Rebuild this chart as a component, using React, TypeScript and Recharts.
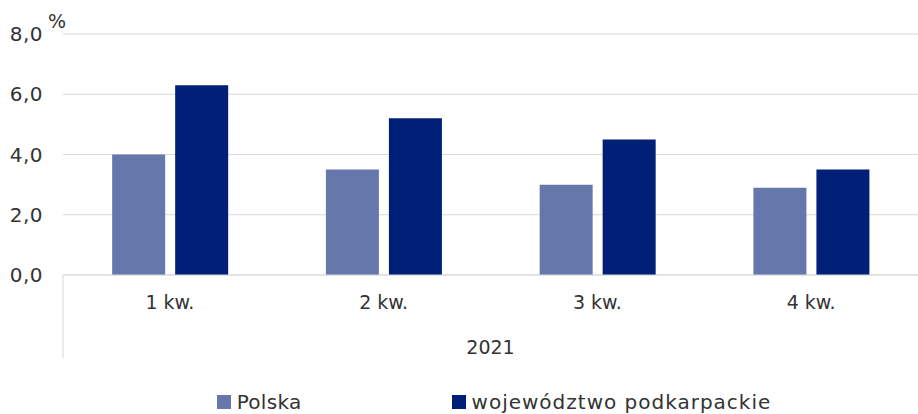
import React from 'react'
import { BarChart, Bar, XAxis, YAxis, CartesianGrid, Legend, Label, usePlotArea } from 'recharts'

const quarters = ['1 kw.', '2 kw.', '3 kw.', '4 kw.']
const polska = [4.0, 3.5, 3.0, 2.9]
const podkarpackie = [6.3, 5.2, 4.5, 3.5]
const yTicks = [0, 2, 4, 6, 8]
const yearLabel = '2021'

const data = quarters.map((q, i) => ({ q, polska: polska[i], podk: podkarpackie[i] }))

const FONT = '"DejaVu Sans", Verdana, sans-serif'
const TEXT = '#333333'

function Extras() {
  const area = usePlotArea()
  if (!area) return null
  const bottom = area.y + area.height
  return (
    <g>
      <line x1={area.x} x2={area.x} y1={bottom} y2={bottom + 83} stroke="#d9d9d9" strokeWidth={1} />
      <text x={area.x - 15} y={area.y - 6} fontSize={19} fill={TEXT} fontFamily={FONT}>%</text>
    </g>
  )
}

const legendItems = [
  { label: 'Polska', color: '#6677ab' },
  { label: 'województwo podkarpackie', color: '#001f77' },
]

function LegendContent() {
  return (
    <div
      style={{
        display: 'flex',
        justifyContent: 'center',
        alignItems: 'flex-end',
        height: 54,
        gap: 150,
        fontFamily: FONT,
        fontSize: 20,
        letterSpacing: 0.8,
        color: TEXT,
        paddingLeft: 70,
        boxSizing: 'border-box',
      }}
    >
      {legendItems.map((it, i) => (
        <div key={it.label} style={{ display: 'flex', alignItems: 'center', lineHeight: '24px', letterSpacing: i === 0 ? 0.3 : 1 }}>
          <span style={{ width: 14, height: 14, background: it.color, display: 'inline-block', marginRight: 6 }} />
          <span>{it.label}</span>
        </div>
      ))}
    </div>
  )
}

export default function App() {
  return (
    <div style={{ position: 'absolute', left: 0, top: 0 }}>
      <BarChart
        width={918}
        height={414}
        data={data}
        margin={{ top: 34, right: 0, left: 0, bottom: 0 }}
        barCategoryGap="23%"
        barGap={10}
      >
        <CartesianGrid vertical={false} stroke="#d9d9d9" strokeWidth={1} />
        <XAxis
          dataKey="q"
          height={85}
          axisLine={{ stroke: '#d9d9d9' }}
          tickLine={false}
          tickMargin={15}
          tick={{ fontSize: 19, fill: TEXT, fontFamily: FONT }}
        >
          <Label value={yearLabel} position="insideBottom" offset={6} fontSize={19} fill={TEXT} fontFamily={FONT} />
        </XAxis>
        <YAxis
          width={63}
          domain={[0, 8]}
          ticks={yTicks}
          axisLine={false}
          tickLine={false}
          tickMargin={14}
          tickFormatter={(v: number) => v.toFixed(1).replace('.', ',')}
          tick={{ fontSize: 20, fill: TEXT, fontFamily: FONT, letterSpacing: 0.5 }}
        />
        <Legend verticalAlign="bottom" height={54} content={<LegendContent />} />
        <Bar dataKey="polska" name="Polska" fill="#6677ab" isAnimationActive={false} />
        <Bar dataKey="podk" name="województwo podkarpackie" fill="#001f77" isAnimationActive={false} />
        <Extras />
      </BarChart>
    </div>
  )
}
